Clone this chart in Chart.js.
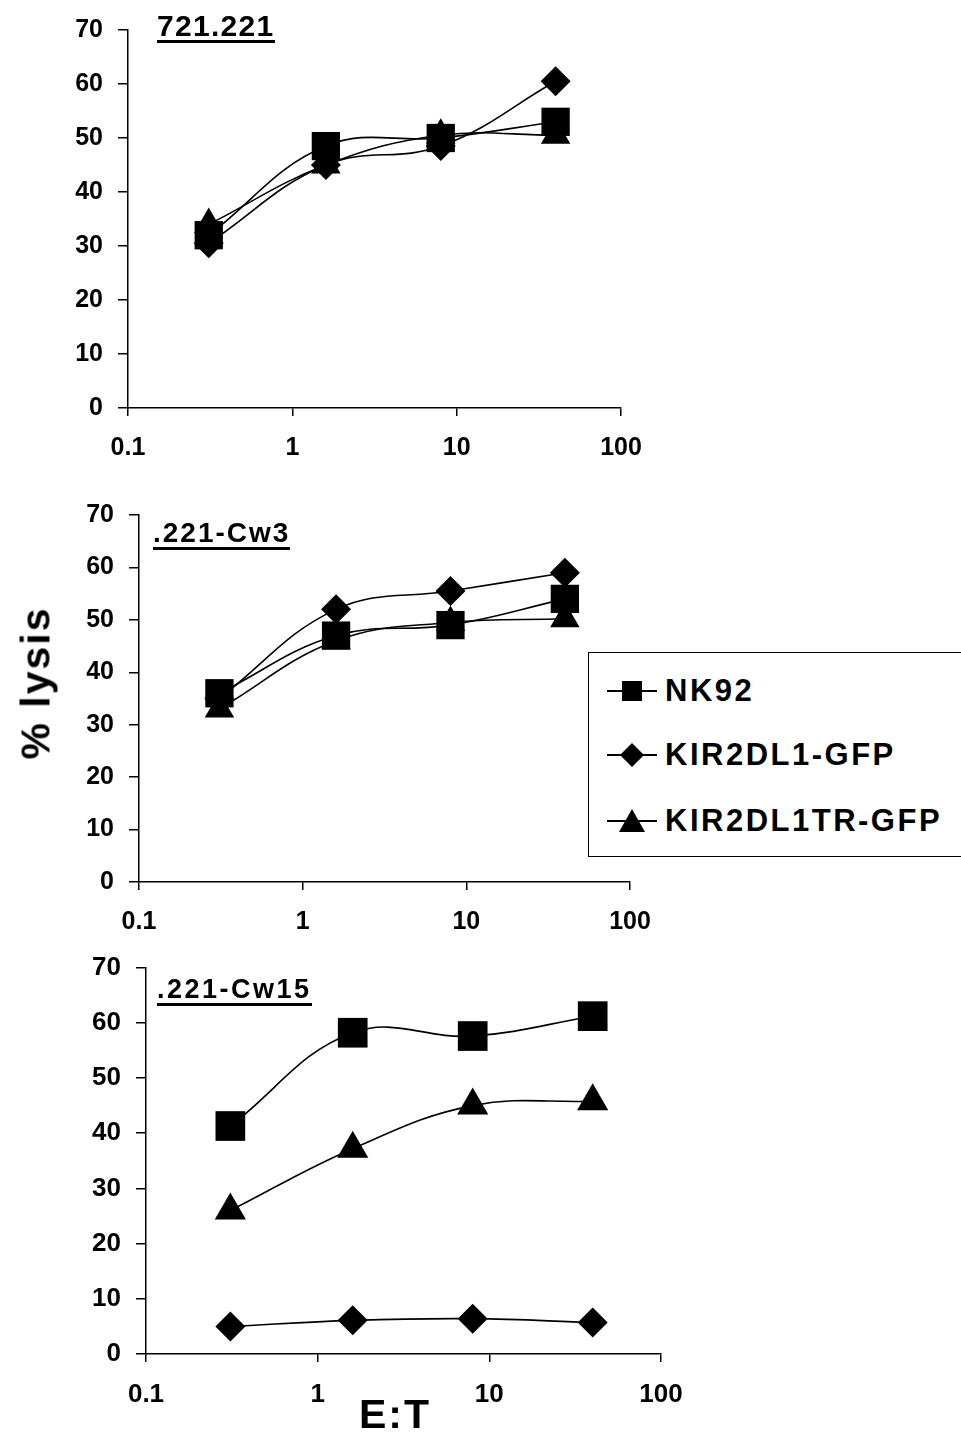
<!DOCTYPE html>
<html lang="en">
<head>
  <meta charset="UTF-8" />
  <title>% lysis vs E:T</title>
  <script src="https://cdn.jsdelivr.net/npm/chart.js"></script>
  <style>
    body {
      margin: 0;
      background: #fff;
      font-family: 'Liberation Sans', Arial, sans-serif;
      font-weight: bold;
      color: #000;
    }
    .wrap {
      position: relative;
      width: 961px;
      height: 1434px;
      overflow: hidden;
    }
    canvas { position: absolute; left: 0; }
    .title {
      position: absolute;
      line-height: 28px;
      border-bottom: 3px solid #000;
      white-space: nowrap;
    }
    .ylab {
      position: absolute;
      left: 36px;
      top: 683px;
      font-size: 41px;
      letter-spacing: 2px;
      transform: translate(-50%, -50%) rotate(-90deg);
      white-space: nowrap;
    }
    .xlab {
      position: absolute;
      left: 395px;
      top: 1414px;
      font-size: 41px;
      letter-spacing: 2px;
      transform: translate(-50%, -50%);
    }
    .legend {
      position: absolute;
      left: 588px;
      top: 652px;
      width: 380px;
      height: 205px;
      border: 1.5px solid #000;
      background: #fff;
      box-sizing: border-box;
    }
    .legend .row {
      position: absolute;
      left: 18px;
      height: 40px;
      display: flex;
      align-items: center;
      font-size: 31px;
      letter-spacing: 2.5px;
      white-space: nowrap;
    }
    .legend svg { margin-right: 8px; }
  </style>
</head>
<body>
<div class="wrap">
  <canvas id="c1" width="680" height="470" style="top:0px"></canvas>
  <canvas id="c2" width="680" height="475" style="top:485px"></canvas>
  <canvas id="c3" width="710" height="497" style="top:937px"></canvas>

  <div class="title" style="left:157px; top:12px; font-size:30px; letter-spacing:1.3px">721.221</div>
  <div class="title" style="left:153px; top:519px; font-size:28px; letter-spacing:2px">.221-Cw3</div>
  <div class="title" style="left:157px; top:975px; font-size:27px; letter-spacing:2.5px">.221-Cw15</div>

  <div class="ylab">% lysis</div>
  <div class="xlab">E:T</div>

  <div class="legend">
    <div class="row" style="top:18px">
      <svg width="50" height="30"><line x1="0" y1="15" x2="50" y2="15" stroke="#000" stroke-width="2"/><rect x="15" y="5" width="20" height="20" fill="#000"/></svg>NK92
    </div>
    <div class="row" style="top:82px">
      <svg width="50" height="30"><line x1="0" y1="15" x2="50" y2="15" stroke="#000" stroke-width="2"/><polygon points="25,3 37,15 25,27 13,15" fill="#000"/></svg>KIR2DL1-GFP
    </div>
    <div class="row" style="top:148px">
      <svg width="50" height="30"><line x1="0" y1="15" x2="50" y2="15" stroke="#000" stroke-width="2"/><polygon points="25,3 38,26 12,26" fill="#000"/></svg>KIR2DL1TR-GFP
    </div>
  </div>
</div>

<script>
  // E:T ratios (5-fold dilutions)
  const etRatios = [0.31, 1.6, 8, 40];
  const xTicks = [0.1, 1, 10, 100];
  const yMax = 70;

  // 721.221
  const nk92_721 = [32, 48.5, 50, 53];
  const kir_721 = [30.5, 45, 48.5, 60.5];
  const kirTR_721 = [34, 45, 50.5, 50.5];

  // .221-Cw3
  const nk92_cw3 = [36, 47, 49, 54];
  const kir_cw3 = [35, 52, 55.5, 59];
  const kirTR_cw3 = [33, 46, 49.5, 50.2];

  // .221-Cw15
  const nk92_cw15 = [41.3, 58.2, 57.6, 61.2];
  const kir_cw15 = [5, 6.1, 6.4, 5.7];
  const kirTR_cw15 = [26, 37.2, 45, 45.8];

  Chart.defaults.font.family = "'Liberation Sans', Arial, sans-serif";
  Chart.defaults.font.weight = 'bold';
  Chart.defaults.color = '#000';

  const toPoints = (vals) => vals.map((v, i) => ({ x: etRatios[i], y: v }));

  const makeSet = (label, vals, style, radius) => ({
    label: label,
    data: toPoints(vals),
    borderColor: '#000',
    backgroundColor: '#000',
    borderWidth: 1.6,
    pointStyle: style,
    pointRadius: radius,
    pointHoverRadius: radius,
    pointBorderWidth: 0,
    tension: 0.4,
    fill: false
  });

  function createChart(id, sets, pad, yWidth, xHeight, fontSize) {
    return new Chart(document.getElementById(id), {
      type: 'line',
      data: { datasets: sets },
      options: {
        responsive: false,
        animation: false,
        clip: false,
        layout: { padding: pad },
        plugins: { legend: { display: false }, tooltip: { enabled: false } },
        scales: {
          x: {
            type: 'logarithmic',
            min: 0.1,
            max: 100,
            afterBuildTicks: (s) => { s.ticks = xTicks.map(v => ({ value: v })); },
            afterFit: (s) => { s.height = xHeight; },
            ticks: {
              font: { size: fontSize, weight: 'bold' },
              padding: 17,
              maxRotation: 0,
              autoSkip: false,
              callback: (v) => String(v)
            },
            grid: { drawOnChartArea: false, drawTicks: true, tickLength: 8, color: '#000', lineWidth: 1.5 },
            border: { color: '#000', width: 1.5 }
          },
          y: {
            min: 0,
            max: yMax,
            afterFit: (s) => { s.width = yWidth; },
            ticks: { stepSize: 10, font: { size: fontSize, weight: 'bold' }, padding: 15 },
            grid: { drawOnChartArea: false, drawTicks: true, tickLength: 10, color: '#000', lineWidth: 1.5 },
            border: { color: '#000', width: 1.5 }
          }
        }
      }
    });
  }

  createChart('c1', [
    makeSet('NK92', nk92_721, 'rect', 20),
    makeSet('KIR2DL1-GFP', kir_721, 'rectRot', 15),
    makeSet('KIR2DL1TR-GFP', kirTR_721, 'triangle', 17)
  ], { left: 0, right: 59, top: 28, bottom: 0 }, 128, 62, 25);

  createChart('c2', [
    makeSet('NK92', nk92_cw3, 'rect', 20),
    makeSet('KIR2DL1-GFP', kir_cw3, 'rectRot', 15),
    makeSet('KIR2DL1TR-GFP', kirTR_cw3, 'triangle', 17)
  ], { left: 0, right: 50, top: 28, bottom: 0 }, 139, 78, 25);

  createChart('c3', [
    makeSet('NK92', nk92_cw15, 'rect', 21),
    makeSet('KIR2DL1-GFP', kir_cw15, 'rectRot', 15),
    makeSet('KIR2DL1TR-GFP', kirTR_cw15, 'triangle', 18)
  ], { left: 0, right: 49, top: 28, bottom: 0 }, 146, 80, 26);
</script>
</body>
</html>
